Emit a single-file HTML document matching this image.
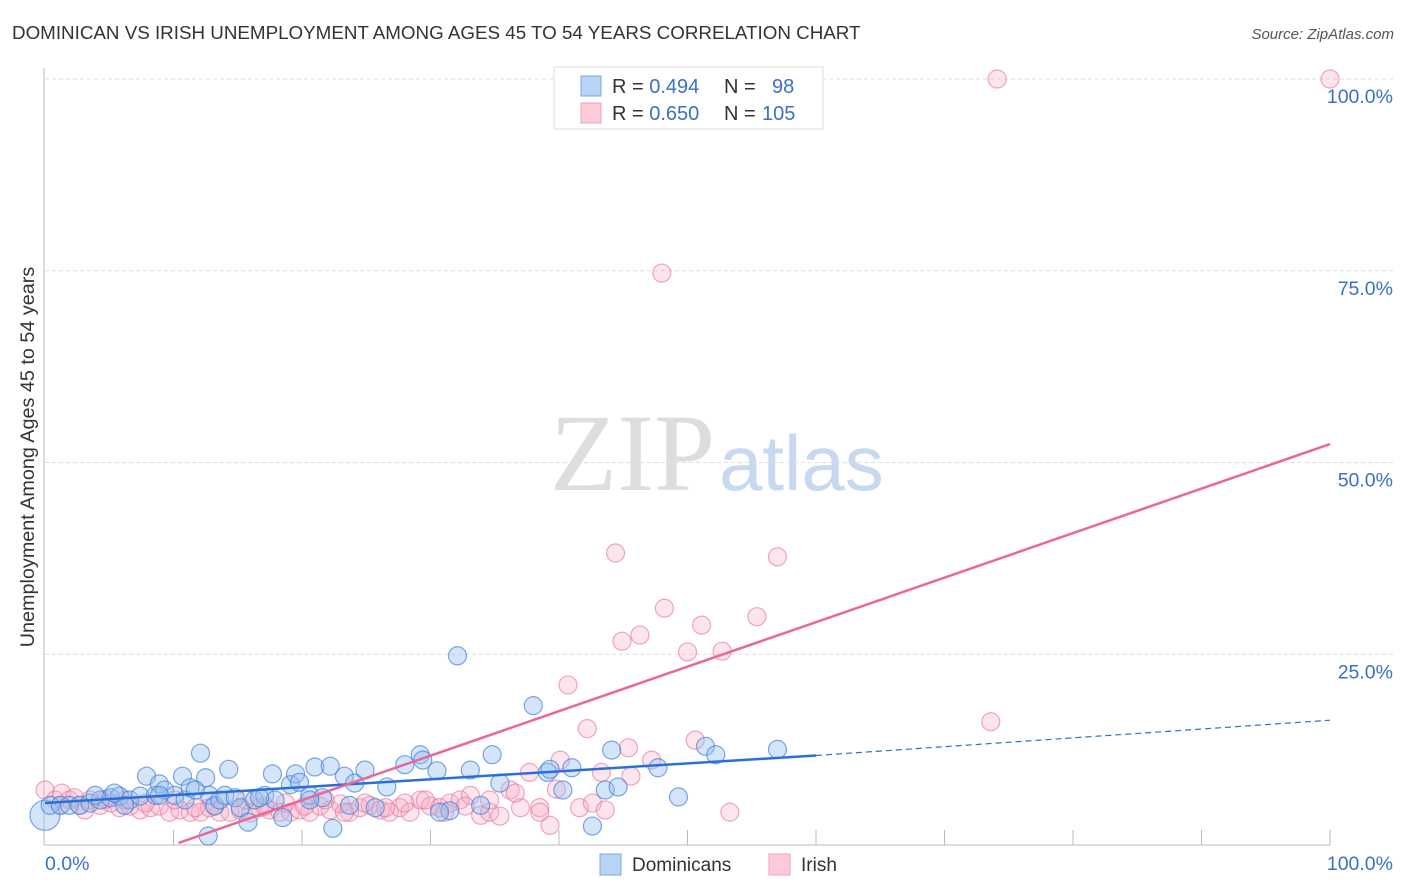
<!DOCTYPE html>
<html><head><meta charset="utf-8"><style>
body{margin:0;background:#fff;font-family:"Liberation Sans",sans-serif;}
#wrap{position:relative;width:1406px;height:892px;overflow:hidden}
</style></head><body>
<div id="wrap">
<svg id="svg" width="1406" height="892" xmlns="http://www.w3.org/2000/svg">
<text x="12" y="39" font-size="18.8" fill="#333">DOMINICAN VS IRISH UNEMPLOYMENT AMONG AGES 45 TO 54 YEARS CORRELATION CHART</text>
<text x="1394" y="39" font-size="15" fill="#555" font-style="italic" text-anchor="end">Source: ZipAtlas.com</text>
<text transform="translate(34,457) rotate(-90)" font-size="19.8" fill="#333" text-anchor="middle">Unemployment Among Ages 45 to 54 years</text>
<text x="715" y="490" font-size="110" fill="#ddd" text-anchor="end" font-family="Liberation Serif">ZIP</text>
<text x="719" y="490" font-size="78" fill="#c8d8ef">atlas</text>
<g id="grid"></g><g id="pts"></g><g id="lines"></g>
<g>
<rect x="554" y="67" width="269" height="62" fill="#fff" stroke="#ddd"/>
<rect x="581" y="76" width="20" height="20" fill="#b8d4f4" stroke="#7aa8e0"/>
<rect x="581" y="103" width="20" height="20" fill="#fccadb" stroke="#f0a0b8"/>
<text x="612" y="93" font-size="20" fill="#333">R = <tspan fill="#3a70c8">0.494</tspan><tspan x="724">N = </tspan><tspan x="772" fill="#3a70c8">98</tspan></text>
<text x="612" y="120" font-size="20" fill="#333">R = <tspan fill="#3a70c8">0.650</tspan><tspan x="724">N = </tspan><tspan x="762" fill="#3a70c8">105</tspan></text>
</g>
<g>
<rect x="600" y="854" width="21" height="21" fill="#b8d4f4" stroke="#7aa8e0"/>
<text x="632" y="871" font-size="19" fill="#333">Dominicans</text>
<rect x="769" y="854" width="21" height="21" fill="#fccadb" stroke="#f0a0b8"/>
<text x="801" y="871" font-size="19" fill="#333">Irish</text>
</g>
</svg>
</div>
<script>
const blueX=[0,0.4,1.2,1.9,2.7,3.5,4.3,5.1,5.8,6.6,7.4,7.9,8.6,8.9,9.3,10.1,10.7,10.9,11.3,12.1,12.5,12.8,13.2,13.6,14.0,14.3,14.8,15.2,15.8,16.3,17.1,17.7,17.9,18.5,19.1,19.5,19.8,20.6,21.0,21.6,22.2,22.4,23.3,24.1,24.9,25.7,26.6,28.0,29.2,29.4,30.5,31.5,32.1,33.1,33.9,34.8,35.4,38.0,39.1,39.3,40.3,41.0,42.6,43.6,44.1,44.6,47.7,49.3,51.4,52.2,57.0,12.7,8.9,6.2,11.7,16.7,23.7,3.9,5.4,30.7,20.6];
const blueY=[4.0,5.3,5.3,5.3,5.3,5.6,6.0,6.3,6.5,6.0,6.5,9.1,6.6,8.1,7.3,6.6,9.1,6.0,7.6,12.1,8.9,6.6,5.2,6.0,6.6,10.0,6.3,5.0,3.1,6.0,6.6,9.4,6.0,3.7,8.0,9.4,8.3,6.6,10.3,6.3,10.4,2.3,9.1,8.2,9.9,5.0,7.7,10.6,11.9,11.2,9.8,4.6,24.8,9.9,5.3,11.9,8.2,18.3,9.6,10.0,7.3,10.2,2.6,7.3,12.5,7.7,10.2,6.4,13.0,11.9,12.6,1.3,6.6,5.3,7.3,6.3,5.3,6.6,6.9,4.4,6.0];
const pinkX=[0,0.8,1.3,1.9,2.7,3.5,4.3,5.1,5.8,6.6,7.4,8.2,8.9,9.7,10.5,11.3,12.1,12.8,13.6,14.4,15.2,16.0,16.7,17.5,18.3,19.1,19.8,20.6,21.4,22.2,23.0,23.7,24.5,25.3,26.1,26.8,27.6,28.4,29.2,30.0,30.7,31.5,32.3,33.1,33.9,34.6,35.4,36.2,37.0,37.7,38.5,39.3,39.8,40.1,40.7,41.6,42.2,42.6,43.3,43.6,44.4,44.9,45.4,45.6,46.3,47.2,48.0,48.2,50.0,50.6,51.1,52.7,53.3,55.4,57.0,73.6,74.1,100,1.2,2.3,3.1,4.7,6.2,7.8,10.1,11.7,13.2,15.6,17.1,18.7,20.2,21.8,23.3,24.9,26.5,28.0,29.6,31.1,32.7,34.6,36.6,38.5];
const pinkY=[7.3,6.0,6.9,6.0,5.3,6.0,5.3,5.6,5.0,5.2,4.7,5.0,5.2,4.4,4.7,4.4,4.4,5.0,4.4,4.4,4.7,4.3,5.0,4.7,4.4,4.4,4.7,4.4,5.2,4.7,5.5,4.4,5.0,5.3,4.7,4.4,5.0,4.4,6.0,5.2,5.0,5.6,6.0,6.6,4.0,4.4,3.9,7.3,5.0,9.6,5.0,2.7,7.4,11.2,21.0,5.0,15.3,5.6,9.6,4.7,38.2,26.7,12.8,9.1,27.5,11.2,74.7,31.0,25.3,13.8,28.8,25.4,4.4,29.9,37.7,16.2,100,100,5.3,6.3,4.7,6.1,6.0,5.6,6.0,5.0,5.3,6.0,5.2,5.6,5.2,6.0,4.4,5.6,5.0,5.6,6.0,4.4,5.2,6.0,6.9,4.4];
const blueLine=[[0,5.6],[60,11.8],[100,16.4]];
const pinkLine=[[10.4,0.4],[100,52.4]];
const yTicks=[25,50,75,100];
const yTickLabels=["25.0%","50.0%","75.0%","100.0%"];
const xTickVals=[10,20,30,40,50,60,70,80,90,100];

const X0=45,X1=1330,Y0=846,Y1=79;
const sx=v=>X0+(X1-X0)*v/100, sy=v=>Y0-(Y0-Y1)*v/100;
const NS="http://www.w3.org/2000/svg";
function mk(tag,parent,attrs){const e=document.createElementNS(NS,tag);for(const k in attrs)e.setAttribute(k,attrs[k]);parent.appendChild(e);return e;}
const grid=document.getElementById('grid'),pts=document.getElementById('pts'),lines=document.getElementById('lines'),svg=document.getElementById('svg');
let e=mk('line',grid,{x1:44,y1:68,x2:44,y2:845,stroke:'#bbb'});


e=mk('line',grid,{x1:44,y1:845,x2:1330,y2:845,stroke:'#bbb'});


yTicks.forEach((v,i)=>{
  let g=mk('line',grid,{x1:45,x2:1395,y1:sy(v),y2:sy(v),stroke:'#ddd','stroke-dasharray':'4,3'});
  
  
  let t=mk('text',svg,{x:1393,y:sy(v)+24,'font-size':19.5,fill:'#3a70c8','text-anchor':'end'});
  t.textContent=yTickLabels[i];
  
  
});
xTickVals.forEach(v=>{
  let t=mk('line',grid,{x1:sx(v),x2:sx(v),y1:830,y2:845,stroke:'#bbb'});
  
  
});
let xl=mk('text',svg,{x:45,y:870,'font-size':19.5,fill:'#3a70c8'});xl.textContent='0.0%';


let xr=mk('text',svg,{x:1393,y:870,'font-size':19.5,fill:'#3a70c8','text-anchor':'end'});xr.textContent='100.0%';


pinkX.forEach((x,i)=>{
  let c=mk('circle',pts,{cx:sx(x),cy:sy(pinkY[i]),r:9,fill:'rgba(248,170,195,0.3)',stroke:'rgba(232,120,155,0.65)','stroke-width':1.2});
  
  
});
blueX.forEach((x,i)=>{
  let c=mk('circle',pts,{cx:sx(x),cy:sy(blueY[i]),r:i===0?15:9,fill:'rgba(150,190,240,0.4)',stroke:'rgba(70,130,215,0.7)','stroke-width':1.2});
  
  
});
let bl=mk('line',lines,{x1:sx(blueLine[0][0]),y1:sy(blueLine[0][1]),x2:sx(blueLine[1][0]),y2:sy(blueLine[1][1]),stroke:'#2a6fd6','stroke-width':2.5});


let bd=mk('line',lines,{x1:sx(blueLine[1][0]),y1:sy(blueLine[1][1]),x2:sx(blueLine[2][0]),y2:sy(blueLine[2][1]),stroke:'#2a6fd6','stroke-width':1.2,'stroke-dasharray':'6,4'});


let pl=mk('line',lines,{x1:sx(pinkLine[0][0]),y1:sy(pinkLine[0][1]),x2:sx(pinkLine[1][0]),y2:sy(pinkLine[1][1]),stroke:'#e8689a','stroke-width':2.5});


</script>
</body></html>
